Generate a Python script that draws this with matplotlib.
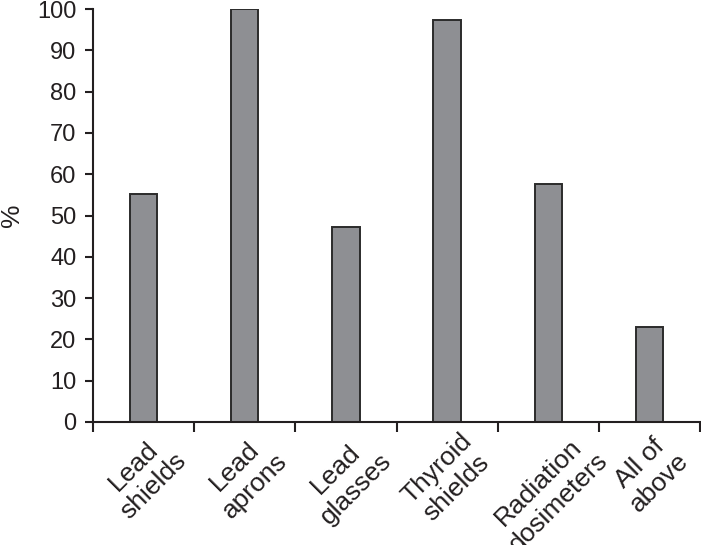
import numpy as np
import matplotlib.pyplot as plt
from matplotlib.ticker import FixedLocator

categories = ["Lead\nshields", "Lead\naprons", "Lead\nglasses", "Thyroid\nshields",
              "Radiation\ndosimeters", "All of\nabove"]
values = [55.2, 100.0, 47.2, 97.3, 57.7, 23.0]
yticks = list(range(0, 101, 10))

plt.rcParams['font.family'] = ['Liberation Sans', 'DejaVu Sans']
ink = '#231f20'

fig = plt.figure(figsize=(7.01, 5.45), dpi=100)
ax = fig.add_axes([93 / 701, 123 / 545, 607 / 701, 413 / 545])

x = np.arange(len(categories)) + 0.5
ax.bar(x, values, width=0.27, color='#8e8f93', edgecolor='#2b2b2b', linewidth=1.4, zorder=2)

ax.set_xlim(0, len(categories))
ax.set_ylim(0, 100)
ax.set_yticks(yticks)
ax.set_xticks(x)
ax.set_xticklabels(categories, rotation=45, ha='center', va='top',
                   multialignment='center', linespacing=1.2)
ax.xaxis.set_minor_locator(FixedLocator(np.arange(len(categories) + 1)))

for s in ['top', 'right']:
    ax.spines[s].set_visible(False)
for s in ['left', 'bottom']:
    ax.spines[s].set_linewidth(1.5)
    ax.spines[s].set_color(ink)

ax.tick_params(axis='y', direction='out', length=6, width=1.5, color=ink,
               labelsize=17, labelcolor=ink, pad=6)
ax.tick_params(axis='x', which='major', length=0, labelsize=19, labelcolor=ink, pad=5)
ax.tick_params(axis='x', which='minor', direction='out', length=7, width=1.5, color=ink)

ax.set_ylabel('%', fontsize=19, color=ink, labelpad=9)

fig.savefig('out.png', dpi=100)
